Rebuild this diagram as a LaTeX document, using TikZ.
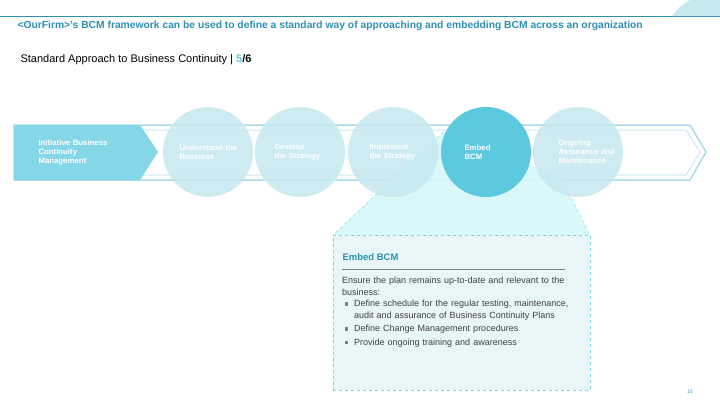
\documentclass[tikz,border=0pt]{standalone}
\usepackage{fontspec}
\setmainfont{Liberation Sans}
\usetikzlibrary{positioning}
\definecolor{firmblue}{HTML}{2E8FB3}
\definecolor{lightcirc}{HTML}{C6E8F0}
\definecolor{darkcirc}{HTML}{5CC9DE}
\definecolor{bandline}{HTML}{A9DCE8}
\definecolor{callout}{HTML}{D6F7FA}
\definecolor{boxfill}{HTML}{E8F6F8}
\definecolor{bodygray}{HTML}{404040}
\newcommand{\bcmbullet}{\noindent\llap{\textcolor{gray}{\rule[1pt]{3.5pt}{3.5pt}}\hspace{6pt}}}
\tikzset{step circle/.style={circle, fill=lightcirc, fill opacity=0.85,
    minimum size=90pt, inner sep=0pt}}
\tikzset{step text/.style={text=white, font=\bfseries\fontsize{7.8}{9}\selectfont, align=left,
    text width=62pt}}
\tikzset{dashed edge/.style={draw=darkcirc!80, dashed, thin}}
\begin{document}
\begin{tikzpicture}[x=1pt, y=-1pt]
  \useasboundingbox (0,0) rectangle (720,405);
  % header
  \draw [firmblue, thin] (0,16) -- (720,16);
  \fill [lightcirc] (690,0) -- (720,0) -- (720,16) -- (672,16) .. controls (680,6) .. (690,0);
  \node [anchor=west, text=firmblue, font=\bfseries\fontsize{10.3}{12}\selectfont] (title) at (14,26)
    {<OurFirm>'s BCM framework can be used to define a standard way of approaching and embedding BCM across an organization};
  \node [anchor=west, font=\fontsize{11}{13}\selectfont] (subtitle) at (17,60)
    {Standard Approach to Business Continuity | \textbf{\textcolor{darkcirc}{5}/6}};

  % band
  \draw [bandline, line width=1.5pt, fill=white] (14,125) -- (690,125) -- (706,152) -- (690,180) -- (14,180) -- cycle;
  \draw [bandline!60, line width=1pt] (16,130) -- (686,130) -- (700,152) -- (686,175) -- (16,175);
  \fill [darkcirc!75] (14,125) -- (140,125) -- (158,152) -- (140,180) -- (14,180) -- cycle;
  \node [step text, anchor=west, text width=100pt] (init) at (35,152)
    {Initiative Business\\Continuity\\Management};

  % callout
  \coordinate (cl) at (443,132);
  \coordinate (cr) at (561,177);
  \fill [callout, opacity=0.9] (cl) -- (cr) -- (590,235) -- (333,235) -- cycle;
  \draw [dashed edge] (cl) -- (333,235);
  \draw [dashed edge] (cr) -- (590,235);

  % steps
  \node [step circle] (understand) at (208,152) {};
  \node [step circle] (develop)    at (300,152) {};
  \node [step circle] (implement)  at (393,152) {};
  \node [step circle, fill=darkcirc, fill opacity=1] (embed) at (486,152) {};
  \node [step circle] (ongoing)    at (578,152) {};
  \node [step text, anchor=west] at (176,152) {Understand the\\Business};
  \node [step text, anchor=west] at (271,152) {Develop\\the Strategy};
  \node [step text, anchor=west] at (366,152) {Implement\\the Strategy};
  \node [step text, anchor=west] at (461,152) {Embed\\BCM};
  \node [step text, anchor=west] at (555,152) {Ongoing\\Assurance and\\Maintenance};

  % detail box
  \node [draw=darkcirc!80, dashed, fill=boxfill, anchor=north west, minimum width=257pt,
    minimum height=155pt] (box) at (333,235) {};
  \node [anchor=west, text=firmblue, font=\bfseries\fontsize{9.5}{11}\selectfont] (boxtitle) at (339,257) {Embed BCM};
  \draw [gray, thin] (342,269) -- (565,269);
  \node [anchor=north west, text=bodygray, text width=235pt, inner sep=0pt,
    font=\fontsize{9}{11.5}\selectfont] (boxbody) at (342,277)
    {\hyphenpenalty=10000 \raggedright
     Ensure the plan remains up-to-date and relevant to the business:\par
     \leftskip=12pt
     \bcmbullet Define schedule for the regular testing, maintenance, audit and assurance of Business Continuity Plans\par\vspace{2pt}
     \bcmbullet Define Change Management procedures\par\vspace{2pt}
     \bcmbullet Provide ongoing training and awareness\par};

  \node [text=firmblue, font=\fontsize{5}{6}\selectfont] (page) at (690,392) {15};
\end{tikzpicture}
\end{document}
